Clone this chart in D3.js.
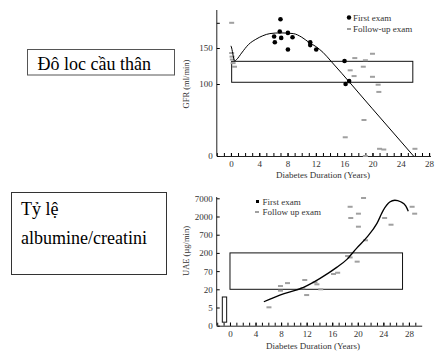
<!DOCTYPE html>
<html>
<head>
<meta charset="utf-8">
<script src="https://cdn.jsdelivr.net/npm/d3@7"></script>
<style>
	body { margin: 0; background: #fff; }
	svg text { font-family: "Liberation Serif", "DejaVu Serif", serif; }
</style>
</head>
<body>
<svg id="fig" width="444" height="362"></svg>
<script>

/* ---- data ---- */

// GFR panel: [years, ml/min]
const gfrFirstExam = [
	[7.0, 190], [6.9, 173], [6.1, 166], [7.1, 164], [8.05, 171], [8.7, 165],
	[6.2, 158], [8.05, 148], [11.2, 158], [11.2, 154], [12.05, 148],
	[16.05, 132], [16.2, 100], [16.7, 104]
];
const gfrFollowUp = [
	[0.1, 185], [0.1, 143], [0.15, 138], [0.2, 134], [0.3, 129], [0.5, 124],
	[17.5, 136], [19.0, 133], [20.0, 142], [16.85, 119], [18.7, 124],
	[17.4, 111], [20.0, 110], [20.8, 99], [20.9, 89], [18.8, 50],
	[16.15, 26], [21.0, 10], [21.6, 9], [26.0, 10], [19.0, 0]
];
const gfrCurve = [
	[0, 153], [0.1, 150], [0.3, 140], [0.5, 132], [0.8, 134], [1.5, 143],
	[2.5, 155], [3.5, 162], [4.5, 167], [5.5, 170], [7, 171], [8.8, 170],
	[10, 165], [11, 158], [12, 152], [13, 144], [14.2, 131], [20, 65.5], [25.8, 0]
];
const gfrBoxes = [[0.1, 25.7, 102.4, 131.5]];   // x0, x1, y0, y1
const gfrTickValues = [0, 100, 150, 185];
const gfrTickLabels = ["0", "100", "150", ""];

// UAE panel: [years, µg/min]
const uaeFollowUp = [
	[6.1, 6.4], [7.9, 24.6], [7.9, 18.3], [9.0, 29.6], [11.7, 36], [11.4, 21.4],
	[12.0, 13.9], [13.6, 27.4], [13.3, 31], [14.2, 20], [16.2, 52.6], [16.85, 57],
	[18.4, 164], [18.8, 150], [19.9, 115], [21.2, 444], [18.8, 3700], [18.9, 1820],
	[20.1, 2390], [20.1, 1050], [20.9, 6450], [24.2, 1820], [25.2, 1190],
	[28.5, 3700], [28.9, 2390]
];
const uaeCurve = [
	[5.3, 9.1], [7.8, 13.9], [11.5, 22.6], [14.1, 40], [16.7, 80], [18.3, 133],
	[19.8, 267], [21.4, 533], [23, 1290], [24, 3000], [25, 5000], [25.8, 5600],
	[26.7, 5080], [27.5, 3900], [27.9, 2800]
];
const uaeBoxes = [[0, 27, 20, 200], [-1.2, -0.52, 2.5, 12.3]];
const uaeTickValues = [2, 6.32, 20, 63.2, 200, 632, 2000, 6325];
const uaeTickLabels = ["0", "5", "20", "70", "200", "700", "2000", "7000"];

const yearLabels = [0, 4, 8, 12, 16, 20, 24, 28];

const svg = d3.select("#fig");
const serif = "Liberation Serif";

/* ---- side captions ---- */
svg.append("rect").attr("x", 27.5).attr("y", 49.5).attr("width", 147).attr("height", 25.5)
	.attr("fill", "none").attr("stroke", "#555");
svg.append("text").attr("x", 37.5).attr("y", 70).attr("font-size", 18).attr("font-family", serif).text("Đô loc cầu thân");

svg.append("rect").attr("x", 11.5).attr("y", 192.5).attr("width", 155).attr("height", 82)
	.attr("fill", "none").attr("stroke", "#333");
svg.append("text").attr("x", 21).attr("y", 215).attr("font-size", 18).attr("font-family", serif).text("Tỷ lệ");
svg.append("text").attr("x", 21).attr("y", 243.5).attr("font-size", 18).attr("font-family", serif).text("albumine/creatini");

/*
	Draw one panel: axes, boxes, scatter, fitted curve
*/
function drawPanel(opt) {
	const g = svg.append("g");
	const x = opt.x, y = opt.y;

	// x axis: minor ticks every year, labels every 4
	g.append("g").attr("transform", `translate(0,${opt.baseY})`)
		.call(d3.axisBottom(x).tickValues(d3.range(-2, opt.maxYear + 1, 1)).tickSize(-3).tickSizeOuter(0).tickFormat(""))
		.call(a => a.select(".domain").attr("stroke", "#222"));
	g.append("g").attr("transform", `translate(0,${opt.baseY})`)
		.call(d3.axisBottom(x).tickValues(yearLabels).tickSize(-3).tickSizeOuter(0).tickPadding(5))
		.attr("font-family", serif).attr("font-size", 9)
		.call(a => a.select(".domain").remove())
		.call(a => a.selectAll("text").attr("fill", "#333"));

	// y axis
	g.append("g").attr("transform", `translate(${opt.axisX},0)`)
		.call(d3.axisLeft(y).tickValues(opt.ticks).tickSize(-3).tickSizeOuter(0).tickPadding(4)
			.tickFormat((d, i) => opt.labels[i]))
		.attr("font-family", serif).attr("font-size", 9)
		.call(a => a.select(".domain").attr("stroke", "#222").attr("d", `M0,${opt.baseY}V${opt.topY}`))
		.call(a => a.selectAll("text").attr("fill", "#333"));

	// boxes
	g.selectAll("rect.box").data(opt.boxes).join("rect").attr("class", "box")
		.attr("x", d => x(d[0])).attr("width", d => x(d[1]) - x(d[0]))
		.attr("y", d => y(d[3])).attr("height", d => y(d[2]) - y(d[3]))
		.attr("fill", "none").attr("stroke", "#111").attr("stroke-width", 1);

	// follow-up marks
	g.selectAll("rect.fu").data(opt.followUp).join("rect").attr("class", "fu")
		.attr("x", d => x(d[0]) - 2.5).attr("y", d => y(d[1]) - 1)
		.attr("width", 5).attr("height", 2).attr("fill", "#a0a0a0");

	// first exam points
	if (opt.first) {
		g.selectAll("circle.fe").data(opt.first).join("circle").attr("class", "fe")
			.attr("cx", d => x(d[0])).attr("cy", d => y(d[1])).attr("r", 2.3).attr("fill", "#000");
	}

	// fitted curve
	const line = d3.line().x(d => x(d[0])).y(d => y(d[1])).curve(d3.curveMonotoneX);
	g.append("path").attr("d", line(opt.curve)).attr("fill", "none")
		.attr("stroke", "#000").attr("stroke-width", opt.curveWidth);

	// axis titles
	g.append("text").attr("x", opt.titleX).attr("y", opt.titleY).attr("text-anchor", "middle")
		.attr("font-size", 9).attr("font-family", serif).attr("fill", "#333").text("Diabetes Duration (Years)");
	g.append("text").attr("transform", `translate(${opt.yTitleX},${opt.yTitleY}) rotate(-90)`)
		.attr("text-anchor", "middle").attr("font-size", 8.5).attr("font-family", serif)
		.attr("fill", "#333").text(opt.yTitle);

	return g;
}

/* ---- GFR panel ---- */
const gfrX = d3.scaleLinear().domain([-2, 28.2]).range([216.8, 430.5]);
const gfrY = d3.scaleLinear().domain([0, 100]).range([156, 84]);
drawPanel({
	x: gfrX, y: gfrY, baseY: 156, topY: 10, axisX: 216.8, maxYear: 28,
	ticks: gfrTickValues, labels: gfrTickLabels, boxes: gfrBoxes,
	followUp: gfrFollowUp, first: gfrFirstExam, curve: gfrCurve, curveWidth: 1,
	titleX: 323, titleY: 177.5, yTitleX: 189, yTitleY: 84, yTitle: "GFR (ml/min)"
});

// GFR legend
svg.append("circle").attr("cx", 349).attr("cy", 17.5).attr("r", 2.2).attr("fill", "#000");
svg.append("text").attr("x", 353).attr("y", 20.5).attr("font-size", 9).attr("font-family", serif).attr("fill", "#333").text("First exam");
svg.append("rect").attr("x", 347).attr("y", 28).attr("width", 4).attr("height", 2).attr("fill", "#a0a0a0");
svg.append("text").attr("x", 353).attr("y", 32).attr("font-size", 9).attr("font-family", serif).attr("fill", "#333").text("Follow-up exam");

/* ---- UAE panel ---- */
const uaeX = d3.scaleLinear().domain([-2, 30]).range([217.2, 421.7]);
const uaeY = d3.scaleLog().domain([2, 6325]).range([325.7, 198.3]);
drawPanel({
	x: uaeX, y: uaeY, baseY: 325.7, topY: 197, axisX: 216.7, maxYear: 29,
	ticks: uaeTickValues, labels: uaeTickLabels, boxes: uaeBoxes,
	followUp: uaeFollowUp, first: null, curve: uaeCurve, curveWidth: 1.3,
	titleX: 313, titleY: 348.5, yTitleX: 189, yTitleY: 251, yTitle: "UAE (µg/min)"
});

// UAE legend
svg.append("rect").attr("x", 256).attr("y", 200).attr("width", 3).attr("height", 3).attr("fill", "#000");
svg.append("text").attr("x", 262.5).attr("y", 204.5).attr("font-size", 9).attr("font-family", serif).attr("fill", "#333").text("First exam");
svg.append("rect").attr("x", 255).attr("y", 211).attr("width", 4).attr("height", 2).attr("fill", "#a0a0a0");
svg.append("text").attr("x", 262.5).attr("y", 215).attr("font-size", 9).attr("font-family", serif).attr("fill", "#333").text("Follow up exam");

</script>
</body>
</html>
